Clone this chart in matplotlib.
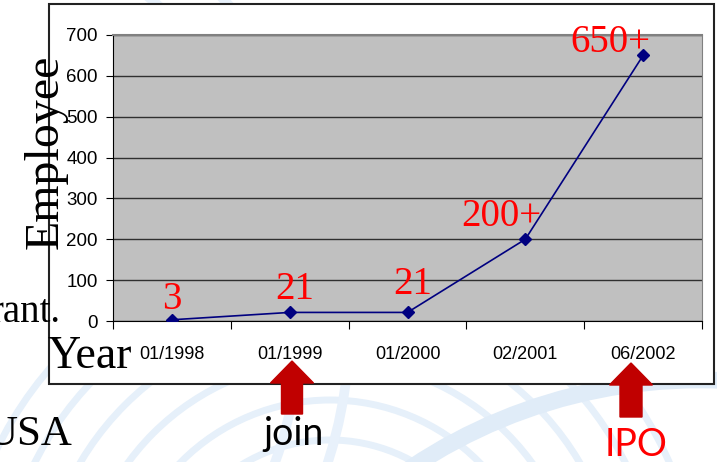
import matplotlib.pyplot as plt
from matplotlib.patches import Rectangle, FancyArrow, Circle

# data
periods = ["01/1998", "01/1999", "01/2000", "02/2001", "06/2002"]
employees = [3, 21, 21, 200, 650]
point_labels = ["3", "21", "21", "200+", "650+"]
y_ticks = [0, 100, 200, 300, 400, 500, 600, 700]

# label offsets (pixels) from each point
label_offsets = [(0, 11), (5, 13), (5, 18), (-24, 13), (-33, 3)]

fig = plt.figure(figsize=(7.17, 4.62), dpi=100)

# slide background layer (pixel coordinates)
bg = fig.add_axes([0, 0, 1, 1])
bg.set_xlim(0, 717)
bg.set_ylim(462, 0)
bg.axis("off")

# faint swirl arcs of the slide template
for r in range(170, 380, 40):
    bg.add_patch(Circle((330, 610), r, fill=False, ec="#e6f0fa", lw=5, zorder=0))
for r in (420, 470):
    bg.add_patch(Circle((-120, 320), r, fill=False, ec="#e8f1fb", lw=7, zorder=0))
bg.add_patch(Circle((700, 900), 520, fill=False, ec="#e0ecf8", lw=12, zorder=0))

# chart frame
bg.add_patch(Rectangle((49, 4), 665, 380, fc="white", ec="#222222", lw=1.5, zorder=1))

# slide text peeking out
bg.text(60, 322, "rant.", fontsize=28, family="Liberation Serif", ha="right",
        va="baseline", zorder=3)
bg.text(72, 445, "USA", fontsize=31, family="Liberation Serif", ha="right",
        va="baseline", zorder=3)

# axis titles
bg.text(46, 152, "Employee", fontsize=34.5, family="Liberation Serif", rotation=90,
        ha="center", va="center", zorder=3)
bg.text(47, 368, "Year", fontsize=33, family="Liberation Serif", ha="left",
        va="baseline", zorder=3)

# arrows
arrow_color = "#c00000"
bg.add_patch(FancyArrow(292, 414, 0, -53, width=21, head_width=43, head_length=22,
                        length_includes_head=True, color=arrow_color, zorder=3))
bg.add_patch(FancyArrow(631, 417, 0, -54, width=22, head_width=43, head_length=22,
                        length_includes_head=True, color=arrow_color, zorder=3))
bg.text(294, 445, "join", fontsize=27, family="Lato", ha="center", va="baseline",
        color="black", zorder=3)
bg.text(636, 456, "IPO", fontsize=27, family="Lato", ha="center", va="baseline",
        color="red", zorder=3)

# main plot
ax = fig.add_axes([113 / 717, (462 - 321) / 462, (702 - 113) / 717, (321 - 35) / 462])
ax.set_facecolor("#c0c0c0")
x = list(range(len(periods)))
ax.plot(x, employees, color="#000080", lw=1.2, marker="D", ms=6, zorder=3)

for xi, yi, lab, off in zip(x, employees, point_labels, label_offsets):
    ax.annotate(lab, (xi, yi), xytext=off, textcoords="offset pixels",
                ha="center", va="baseline", color="red", fontsize=28,
                family="Liberation Serif", zorder=4)

ax.set_xlim(-0.5, len(periods) - 0.5)
ax.set_ylim(0, 700)
ax.set_yticks(y_ticks)
ax.yaxis.grid(True, color="#303030", lw=1)
ax.set_axisbelow(True)

ax.set_xticks([i - 0.5 for i in range(len(periods) + 1)])
ax.set_xticklabels([])
ax.set_xticks(x, minor=True)
ax.set_xticklabels(periods, minor=True)
ax.tick_params(axis="x", which="major", length=6, direction="out", color="black")
ax.tick_params(axis="x", which="minor", length=0, pad=18, labelsize=13)
ax.tick_params(axis="y", length=5, direction="out", pad=6, labelsize=13.5)
for lab in ax.get_xticklabels(minor=True) + ax.get_yticklabels():
    lab.set_family("Liberation Sans")

ax.spines["left"].set_color("black")
ax.spines["bottom"].set_color("black")
ax.spines["top"].set_color("#808080")
ax.spines["right"].set_color("#808080")
ax.spines["top"].set_linewidth(1.5)

fig.savefig("out.png", dpi=100)
